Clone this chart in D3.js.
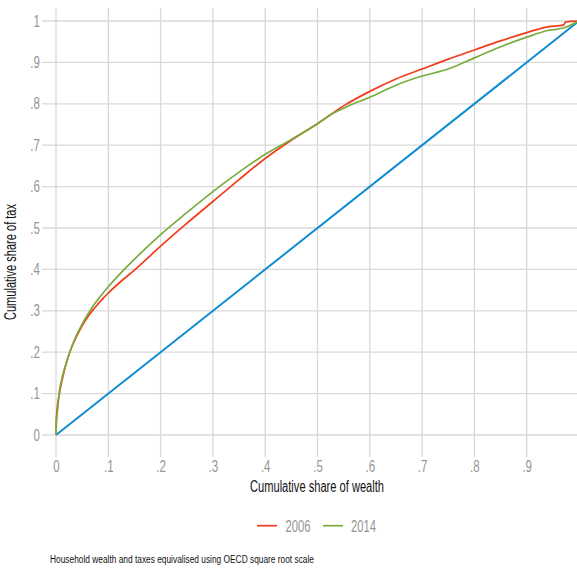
<!DOCTYPE html>
<html>
<head>
<meta charset="utf-8">
<script src="https://cdn.jsdelivr.net/npm/d3@7"></script>
<style>
  html, body { margin: 0; padding: 0; background: #ffffff; }
  svg { display: block; }
</style>
</head>
<body>
<svg id="chart" width="577" height="568"></svg>
<script>
// ---------------- data ----------------
const wealth2006 = [0, 0.0005, 0.002, 0.0065, 0.013, 0.02, 0.03, 0.04, 0.05, 0.06, 0.07, 0.08, 0.09, 0.1, 0.125, 0.15, 0.2, 0.25, 0.3, 0.35, 0.4, 0.45, 0.5, 0.55, 0.6, 0.65, 0.7, 0.75, 0.8, 0.85, 0.9, 0.94, 0.97, 0.975, 1];
const tax2006    = [0, 0.03, 0.06, 0.10, 0.14, 0.175, 0.212, 0.240, 0.264, 0.284, 0.301, 0.316, 0.330, 0.343, 0.372, 0.398, 0.456, 0.511, 0.564, 0.617, 0.668, 0.712, 0.752, 0.795, 0.830, 0.860, 0.884, 0.908, 0.930, 0.952, 0.972, 0.986, 0.990, 0.998, 1];

const wealth2014 = [0, 0.0008, 0.003, 0.006, 0.012, 0.02, 0.03, 0.04, 0.05, 0.06, 0.07, 0.08, 0.09, 0.1, 0.12, 0.14, 0.16, 0.2, 0.25, 0.3, 0.35, 0.4, 0.45, 0.5, 0.53, 0.556, 0.6, 0.65, 0.7, 0.75, 0.8, 0.843, 0.9, 0.94, 0.97, 1];
const tax2014    = [0, 0.03, 0.06, 0.10, 0.14, 0.175, 0.213, 0.243, 0.268, 0.290, 0.310, 0.327, 0.343, 0.358, 0.386, 0.412, 0.437, 0.484, 0.537, 0.588, 0.635, 0.678, 0.714, 0.752, 0.777, 0.793, 0.816, 0.845, 0.867, 0.884, 0.911, 0.934, 0.961, 0.977, 0.983, 1];

const equalityX = [0, 1];
const equalityY = [0, 1];

const seriesNames = ["2006", "2014"];
const seriesColors = ["#f23c1e", "#7aab3f"];
const equalityColor = "#108cd2";

const xTicks = [0, 0.1, 0.2, 0.3, 0.4, 0.5, 0.6, 0.7, 0.8, 0.9];
const xTickLabels = ["0", ".1", ".2", ".3", ".4", ".5", ".6", ".7", ".8", ".9"];
const yTicks = [0, 0.1, 0.2, 0.3, 0.4, 0.5, 0.6, 0.7, 0.8, 0.9, 1];
const yTickLabels = ["0", ".1", ".2", ".3", ".4", ".5", ".6", ".7", ".8", ".9", "1"];
const gridX = [0, 0.1, 0.2, 0.3, 0.4, 0.5, 0.6, 0.7, 0.8, 0.9, 1];

const xTitle = "Cumulative share of wealth";
const yTitle = "Cumulative share of tax";
const caption = "Household wealth and taxes equivalised using OECD square root scale";

// ---------------- layout ----------------
const svg = d3.select("#chart");
const FONT = "'Liberation Sans', Arial, sans-serif";
const SQX = 0.72;

const x = d3.scaleLinear().domain([0, 1]).range([56, 579]);
const y = d3.scaleLinear().domain([0, 1]).range([435, 21]);

const gridTop = 8, gridBottom = 457, gridLeft = 42;

svg.append("rect").attr("width", 577).attr("height", 568).attr("fill", "#ffffff");

// gridlines
const grid = svg.append("g");
grid.selectAll("line.h").data(yTicks).join("line")
  .attr("class", "h")
  .attr("x1", gridLeft).attr("x2", 579)
  .attr("y1", d => y(d)).attr("y2", d => y(d))
  .attr("stroke", "#d9d9d9").attr("stroke-width", 1.3);
grid.selectAll("line.v").data(gridX).join("line")
  .attr("class", "v")
  .attr("x1", d => x(d)).attr("x2", d => x(d))
  .attr("y1", gridTop).attr("y2", gridBottom)
  .attr("stroke", "#d9d9d9").attr("stroke-width", 1.3);

// axes
const yAxis = d3.axisLeft(y).tickValues(yTicks)
  .tickFormat((d, i) => yTickLabels[i]).tickSize(0).tickPadding(3);
const gy = svg.append("g").attr("transform", `translate(${gridLeft},0)`).call(yAxis);
gy.select(".domain").remove();
gy.selectAll("text")
  .attr("font-family", FONT).attr("font-size", 16).attr("fill", "#959595")
  .attr("transform", `scale(${SQX},1)`);

const xAxis = d3.axisBottom(x).tickValues(xTicks)
  .tickFormat((d, i) => xTickLabels[i]).tickSize(0).tickPadding(3.5);
const gx = svg.append("g").attr("transform", `translate(0,${gridBottom})`).call(xAxis);
gx.select(".domain").remove();
gx.selectAll("text")
  .attr("font-family", FONT).attr("font-size", 16).attr("fill", "#959595")
  .attr("transform", `scale(${SQX},1)`);

// lines
const line = d3.line().x(d => x(d[0])).y(d => y(d[1])).curve(d3.curveMonotoneX);

svg.append("path")
  .datum(equalityX.map((v, i) => [v, equalityY[i]]))
  .attr("d", line).attr("fill", "none")
  .attr("stroke", equalityColor).attr("stroke-width", 2);

const series = [
  wealth2006.map((v, i) => [v, tax2006[i]]),
  wealth2014.map((v, i) => [v, tax2014[i]])
];
series.forEach((s, k) => {
  svg.append("path").datum(s)
    .attr("d", line).attr("fill", "none")
    .attr("stroke", seriesColors[k]).attr("stroke-width", 1.7)
    .attr("stroke-linejoin", "round");
});

// axis titles
svg.append("text")
  .attr("x", 317).attr("y", 491.5)
  .attr("text-anchor", "middle")
  .attr("font-family", FONT).attr("font-size", 16).attr("fill", "#111")
  .attr("textLength", 134).attr("lengthAdjust", "spacingAndGlyphs")
  .text(xTitle);

svg.append("text")
  .attr("transform", "translate(16,262) rotate(-90)")
  .attr("text-anchor", "middle")
  .attr("font-family", FONT).attr("font-size", 16).attr("fill", "#111")
  .attr("textLength", 116).attr("lengthAdjust", "spacingAndGlyphs")
  .text(yTitle);

// legend
const legendItems = [
  { name: seriesNames[0], color: seriesColors[0], lx: 257, tx: 285.5 },
  { name: seriesNames[1], color: seriesColors[1], lx: 323, tx: 351 }
];
const lg = svg.append("g");
legendItems.forEach(it => {
  lg.append("line")
    .attr("x1", it.lx).attr("x2", it.lx + 20)
    .attr("y1", 525.7).attr("y2", 525.7)
    .attr("stroke", it.color).attr("stroke-width", 1.7);
  lg.append("text")
    .attr("x", it.tx).attr("y", 532)
    .attr("font-family", FONT).attr("font-size", 16).attr("fill", "#959595")
    .attr("textLength", 25).attr("lengthAdjust", "spacingAndGlyphs")
    .text(it.name);
});

// caption
svg.append("text")
  .attr("x", 50).attr("y", 563)
  .attr("font-family", FONT).attr("font-size", 10).attr("fill", "#111")
  .attr("textLength", 264).attr("lengthAdjust", "spacingAndGlyphs")
  .text(caption);
</script>
</body>
</html>
